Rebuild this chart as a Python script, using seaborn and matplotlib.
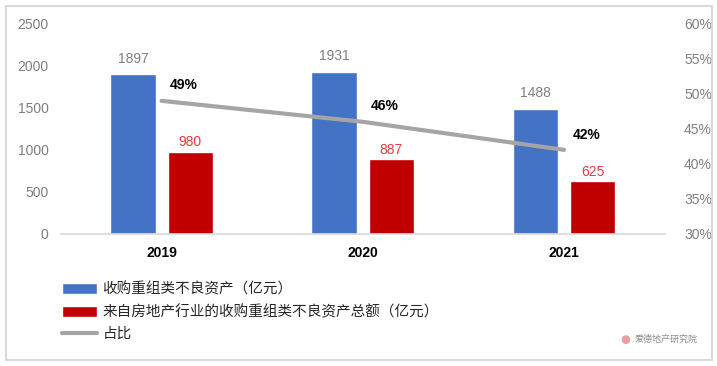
import numpy as np
import pandas as pd
import matplotlib
matplotlib.use('Agg')
import matplotlib.pyplot as plt
from matplotlib.patches import Patch, Rectangle, Ellipse
from matplotlib.lines import Line2D
import seaborn as sns

# data
years = ['2019', '2020', '2021']
total_npa = [1897, 1931, 1488]          # 收购重组类不良资产（亿元）
realestate_npa = [980, 887, 625]        # 来自房地产行业的...总额（亿元）
share_pct = [49, 46, 42]                # 占比 (%)

name_total = '收购重组类不良资产（亿元）'
name_re = '来自房地产行业的收购重组类不良资产总额（亿元）'
name_share = '占比'

blue = '#4472C4'
red = '#C00000'
grey_line = '#A5A5A5'

df = pd.DataFrame({
    'year': years * 2,
    'value': total_npa + realestate_npa,
    'series': [name_total] * 3 + [name_re] * 3,
})

sns.set_theme(style='white')
plt.rcParams['font.family'] = ['Liberation Sans', 'Noto Sans CJK SC', 'DejaVu Sans']

fig = plt.figure(figsize=(7.17, 3.66), dpi=100)
ax = fig.add_axes([0.085, 0.361, 0.842, 0.574])

sns.barplot(data=df, x='year', y='value', hue='series', order=years,
            hue_order=[name_total, name_re], palette=[blue, red],
            width=0.57, gap=0.21, ax=ax, legend=False, saturation=1)

ax.set_ylim(0, 2500)
ax.set_yticks(range(0, 2501, 500))
ax.set_xlim(-0.5, 2.5)
ax.set_xlabel('')
ax.set_ylabel('')
for s in ['left', 'right', 'top']:
    ax.spines[s].set_visible(False)
ax.spines['bottom'].set_color('#D9D9D9')
ax.tick_params(axis='y', colors='#7F7F7F', labelsize=10, length=0, pad=9)
ax.tick_params(axis='x', colors='black', labelsize=10, length=0, pad=9)
for lbl in ax.get_xticklabels():
    lbl.set_fontweight('bold')

# bar value labels
label_style = [('#7F7F7F', 6), ('#E03C3C', 1.5)]
for c, (col, pad) in zip(ax.containers, label_style):
    ax.bar_label(c, labels=[f'{v:.0f}' for v in c.datavalues], padding=pad,
                 color=col, fontsize=10)

ax2 = ax.twinx()
sns.lineplot(x=np.arange(len(years)), y=share_pct, ax=ax2, color=grey_line,
             linewidth=3)
ax2.set_ylim(30, 60)
ax2.set_yticks(range(30, 61, 5))
ax2.set_yticklabels([f'{v}%' for v in range(30, 61, 5)])
ax2.tick_params(axis='y', colors='#7F7F7F', labelsize=10, length=0, pad=14)
for s in ['left', 'right', 'top', 'bottom']:
    ax2.spines[s].set_visible(False)
ax2.set_xlim(-0.5, 2.5)

for i, v in enumerate(share_pct):
    ax2.annotate(f'{v}%', (i, v), xytext=(6, 6), textcoords='offset points',
                 fontsize=10, fontweight='bold', color='black', ha='left', va='bottom')

handles = [Patch(facecolor=blue, label=name_total),
           Patch(facecolor=red, label=name_re),
           Line2D([0], [0], color=grey_line, lw=3, label=name_share)]
fig.legend(handles=handles, loc='upper left', bbox_to_anchor=(0.078, 0.245),
           frameon=False, fontsize=10.5, handlelength=2.4, handleheight=0.8,
           labelspacing=0.55, handletextpad=0.4, borderaxespad=0)

# watermark
fig.text(0.885, 0.072, '爱德地产研究院', fontsize=6.5, color='#8C8C8C',
         ha='left', va='center')
fig.patches.append(Ellipse((0.873, 0.072), 0.012, 0.024, transform=fig.transFigure,
                           facecolor='#E8A0A0', edgecolor='none'))

# outer frame
fig.patches.append(Rectangle((6 / 717, 6 / 366), 706 / 717, 354 / 366,
                             transform=fig.transFigure, fill=False,
                             edgecolor='#D9D9D9', linewidth=1.5))

fig.savefig('out.png', dpi=100)
